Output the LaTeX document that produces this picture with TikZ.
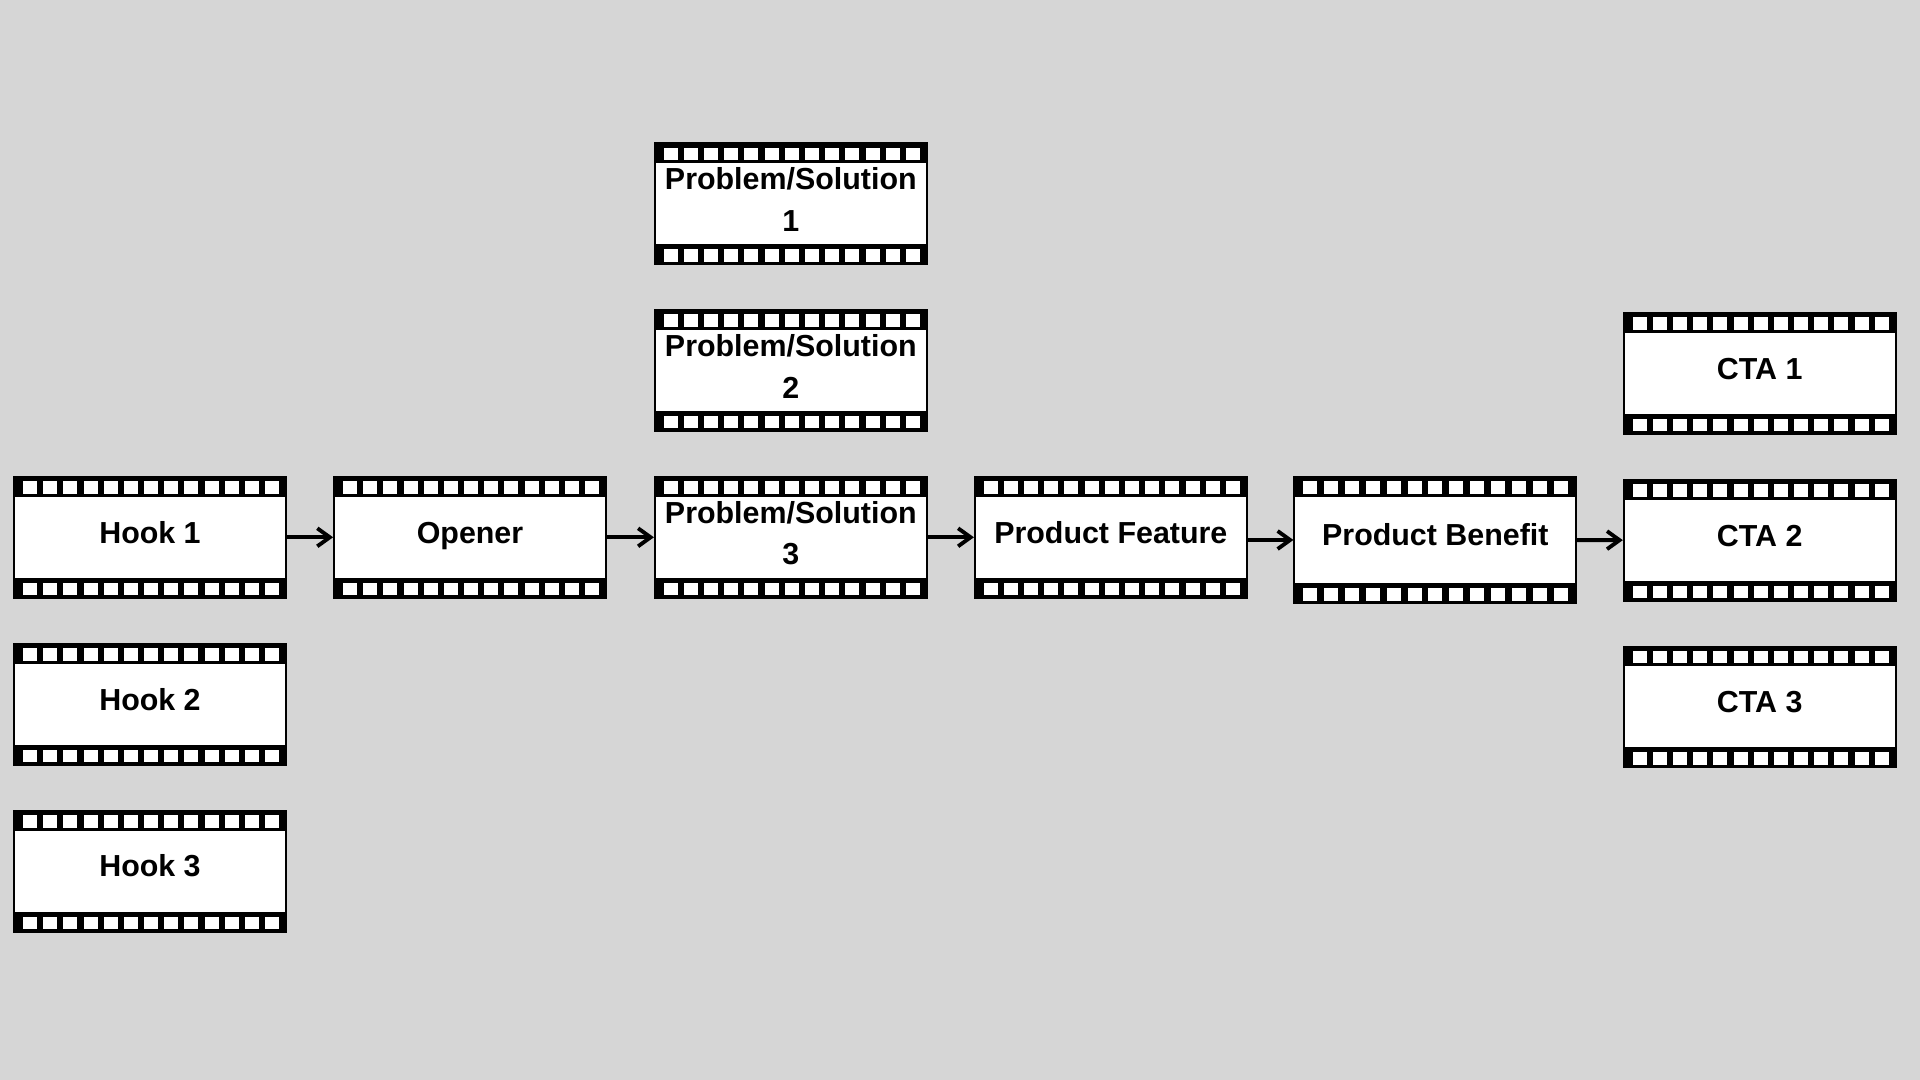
\documentclass[tikz,border=0pt]{standalone}
\usepackage{fontspec}
\setmainfont{Liberation Sans}
\usetikzlibrary{arrows.meta}

\definecolor{canvas}{HTML}{D6D6D6}
\newcommand{\filmpitch}{0.2017}

\tikzset{
    film pitch/.store in=\filmpitch,
    film/.style={draw=black, line width=0.5pt, fill=white,
        minimum width=2.72cm, minimum height=1.21cm, inner sep=0pt,
        font=\fontsize{8.65}{11.9}\selectfont\bfseries, align=center,
        path picture={
            % sprocket strips
            \fill[black] (path picture bounding box.north west) rectangle ([yshift=-0.2cm]path picture bounding box.north east);
            \fill[black] (path picture bounding box.south west) rectangle ([yshift=0.2cm]path picture bounding box.south east);
            % holes
            \foreach \k in {0,...,12} {
                \fill[white] ([xshift={(0.09+\k*\filmpitch)*1cm}, yshift=-0.045cm]path picture bounding box.north west) rectangle ++(0.14,-0.125);
                \fill[white] ([xshift={(0.09+\k*\filmpitch)*1cm}, yshift=0.025cm]path picture bounding box.south west) rectangle ++(0.14,0.125);
            }
        }},
    oneline/.style={text height=0.75em, text depth=0.42em},
    flow/.style={->, line width=1.1pt}
}

\begin{document}
\begin{tikzpicture}[>={Straight Barb[length=1.25mm, width=1.8mm]}]
    % Canvas
    \fill[canvas] (0,0) rectangle (19.2,10.8);
    \useasboundingbox (0,0) rectangle (19.2,10.8);

    % Hooks
    \foreach \i/\y in {1/5.427, 2/3.755, 3/2.088}
        \node[film, oneline] (hook\i) at (1.50,\y) {Hook \i};

    % Opener
    \node[film, oneline] (opener) at (4.70,5.427) {Opener};

    % Problem / solution
    \foreach \i/\y in {1/8.763, 2/7.095, 3/5.427}
        \node[film] (ps\i) at (7.908,\y) {Problem/Solution\\\i\rule[-0.28em]{0pt}{0pt}};

    % Product
    \node[film, oneline] (feature) at (11.108,5.427) {Product Feature};
    \node[film, oneline, film pitch=0.2085, minimum width=2.82cm, minimum height=1.265cm] (benefit) at (14.353,5.40) {Product Benefit};

    % Calls to action
    \foreach \i/\y in {1/7.067, 2/5.397, 3/3.73}
        \node[film, oneline] (cta\i) at (17.597,\y) {CTA \i};

    % Flow
    \draw[flow] (hook1) -- (opener);
    \draw[flow] (opener) -- (ps3);
    \draw[flow] (ps3) -- (feature);
    \draw[flow] (feature.east |- benefit) -- (benefit);
    \draw[flow] (benefit) -- (cta2);
\end{tikzpicture}
\end{document}
